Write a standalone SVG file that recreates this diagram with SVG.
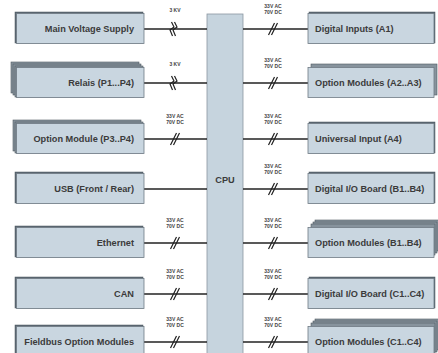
<svg xmlns="http://www.w3.org/2000/svg" width="438" height="353" viewBox="0 0 438 353">
<defs>
<style>
.bx{fill:#c9d6e0;stroke:#6f7a84;stroke-width:0.8}
.sh{fill:#5e6a74;stroke:#4a545c;stroke-width:0.5}
.st{fill:#87939d;stroke:#505a62;stroke-width:0.6}
.t{font-family:"Liberation Sans",Arial,sans-serif;font-weight:bold;font-size:9.2px;fill:#3b3b3b}
.s{font-family:"Liberation Sans",Arial,sans-serif;font-weight:bold;font-size:5px;fill:#444}
.ln{stroke:#222;stroke-width:1.5;fill:none}
.br{stroke:#222;stroke-width:1.2;fill:none}
</style>
<g id="sl"><path class="br" d="M-4.5,6 L1.5,-6 M-1.5,6 L4.5,-6"/></g>
<g id="zz"><path class="br" d="M-0.5,-7 L2,-2 L-2,1 L0.5,7 M2.5,-7 L5,-2 L1,1 L3.5,7"/></g>
</defs>
<rect width="438" height="353" fill="#fff"/>

<g id="cpu">
<rect x="207" y="14" width="36" height="345" fill="#c6d4de" stroke="#8a96a0" stroke-width="0.8"/>
<text class="t" x="225" y="183" text-anchor="middle">CPU</text>
</g>

<g id="connectors">
<line class="ln" x1="144" y1="29" x2="207" y2="29"/>
<use href="#zz" x="172" y="29"/><text class="s" x="175" y="12" text-anchor="middle">3 KV</text>
<line class="ln" x1="144" y1="83" x2="207" y2="83"/>
<use href="#zz" x="172" y="83"/><text class="s" x="175" y="66" text-anchor="middle">3 KV</text>
<line class="ln" x1="144" y1="139" x2="207" y2="139"/>
<use href="#sl" x="175" y="139"/><text class="s" x="175" y="118" text-anchor="middle">33V AC</text><text class="s" x="175" y="123.5" text-anchor="middle">70V DC</text>
<line class="ln" x1="144" y1="189" x2="207" y2="189"/>
<line class="ln" x1="144" y1="243" x2="207" y2="243"/>
<use href="#sl" x="175" y="243"/><text class="s" x="175" y="222" text-anchor="middle">33V AC</text><text class="s" x="175" y="227.5" text-anchor="middle">70V DC</text>
<line class="ln" x1="144" y1="294" x2="207" y2="294"/>
<use href="#sl" x="175" y="294"/><text class="s" x="175" y="273" text-anchor="middle">33V AC</text><text class="s" x="175" y="278.5" text-anchor="middle">70V DC</text>
<line class="ln" x1="144" y1="342" x2="207" y2="342"/>
<use href="#sl" x="175" y="342"/><text class="s" x="175" y="321" text-anchor="middle">33V AC</text><text class="s" x="175" y="326.5" text-anchor="middle">70V DC</text>

<line class="ln" x1="243" y1="29" x2="308" y2="29"/>
<use href="#sl" x="273" y="29"/><text class="s" x="273" y="8" text-anchor="middle">33V AC</text><text class="s" x="273" y="13.5" text-anchor="middle">70V DC</text>
<line class="ln" x1="243" y1="83" x2="308" y2="83"/>
<use href="#sl" x="273" y="83"/><text class="s" x="273" y="62" text-anchor="middle">33V AC</text><text class="s" x="273" y="67.5" text-anchor="middle">70V DC</text>
<line class="ln" x1="243" y1="139" x2="308" y2="139"/>
<use href="#sl" x="273" y="139"/><text class="s" x="273" y="118" text-anchor="middle">33V AC</text><text class="s" x="273" y="123.5" text-anchor="middle">70V DC</text>
<line class="ln" x1="243" y1="189" x2="308" y2="189"/>
<use href="#sl" x="273" y="189"/><text class="s" x="273" y="168" text-anchor="middle">33V AC</text><text class="s" x="273" y="173.5" text-anchor="middle">70V DC</text>
<line class="ln" x1="243" y1="243" x2="308" y2="243"/>
<use href="#sl" x="273" y="243"/><text class="s" x="273" y="222" text-anchor="middle">33V AC</text><text class="s" x="273" y="227.5" text-anchor="middle">70V DC</text>
<line class="ln" x1="243" y1="294" x2="308" y2="294"/>
<use href="#sl" x="273" y="294"/><text class="s" x="273" y="273" text-anchor="middle">33V AC</text><text class="s" x="273" y="278.5" text-anchor="middle">70V DC</text>
<line class="ln" x1="243" y1="342" x2="308" y2="342"/>
<use href="#sl" x="273" y="342"/><text class="s" x="273" y="321" text-anchor="middle">33V AC</text><text class="s" x="273" y="326.5" text-anchor="middle">70V DC</text>
</g>

<g id="main-voltage">
<rect class="sh" x="15" y="12" width="128" height="31"/>
<rect class="bx" x="16.5" y="13.5" width="127.5" height="30"/>
<text class="t" x="134" y="32.2" text-anchor="end">Main Voltage Supply</text>
</g>
<g id="relais">
<rect class="st" x="11" y="62" width="128" height="31"/>
<rect class="st" x="13" y="64" width="128" height="31"/>
<rect class="st" x="15" y="66" width="128" height="31"/>
<rect class="bx" x="16.5" y="67.5" width="127.5" height="30"/>
<text class="t" x="134" y="86.2" text-anchor="end">Relais (P1...P4)</text>
</g>
<g id="option-module-p">
<rect class="st" x="13" y="120" width="128" height="31"/>
<rect class="st" x="15" y="122" width="128" height="31"/>
<rect class="bx" x="16.5" y="123.5" width="127.5" height="30"/>
<text class="t" x="134" y="142.2" text-anchor="end">Option Module (P3..P4)</text>
</g>
<g id="usb">
<rect class="sh" x="15" y="172" width="128" height="31"/>
<rect class="bx" x="16.5" y="173.5" width="127.5" height="30"/>
<text class="t" x="134" y="192.2" text-anchor="end">USB (Front / Rear)</text>
</g>
<g id="ethernet">
<rect class="sh" x="15" y="226" width="128" height="31"/>
<rect class="bx" x="16.5" y="227.5" width="127.5" height="30"/>
<text class="t" x="134" y="246.2" text-anchor="end">Ethernet</text>
</g>
<g id="can">
<rect class="sh" x="15" y="277" width="128" height="31"/>
<rect class="bx" x="16.5" y="278.5" width="127.5" height="30"/>
<text class="t" x="134" y="297.2" text-anchor="end">CAN</text>
</g>
<g id="fieldbus">
<rect class="sh" x="15" y="325" width="128" height="31"/>
<rect class="bx" x="16.5" y="326.5" width="127.5" height="30"/>
<text class="t" x="134" y="345.2" text-anchor="end">Fieldbus Option Modules</text>
</g>

<g id="digital-inputs">
<rect class="sh" x="309" y="12" width="126" height="31"/>
<rect class="bx" x="308" y="13.5" width="126" height="30"/>
<text class="t" x="315" y="32.2">Digital Inputs (A1)</text>
</g>
<g id="option-a">
<rect class="st" x="311" y="64" width="126" height="31"/>
<rect class="bx" x="308" y="67.5" width="126" height="30"/>
<text class="t" x="315" y="86.2">Option Modules (A2..A3)</text>
</g>
<g id="universal-input">
<rect class="sh" x="309" y="122" width="126" height="31"/>
<rect class="bx" x="308" y="123.5" width="126" height="30"/>
<text class="t" x="315" y="142.2">Universal Input (A4)</text>
</g>
<g id="digital-io-b">
<rect class="sh" x="309" y="172" width="126" height="31"/>
<rect class="bx" x="308" y="173.5" width="126" height="30"/>
<text class="t" x="315" y="192.2">Digital I/O Board (B1..B4)</text>
</g>
<g id="option-b">
<rect class="st" x="315" y="220" width="124" height="31"/>
<rect class="st" x="313" y="222" width="124" height="31"/>
<rect class="st" x="311" y="224" width="124" height="31"/>
<rect class="bx" x="308" y="227.5" width="126" height="30"/>
<text class="t" x="315" y="246.2">Option Modules (B1..B4)</text>
</g>
<g id="digital-io-c">
<rect class="sh" x="309" y="277" width="126" height="31"/>
<rect class="bx" x="308" y="278.5" width="126" height="30"/>
<text class="t" x="315" y="297.2">Digital I/O Board (C1..C4)</text>
</g>
<g id="option-c">
<rect class="st" x="315" y="319" width="124" height="31"/>
<rect class="st" x="313" y="321" width="124" height="31"/>
<rect class="st" x="311" y="323" width="124" height="31"/>
<rect class="bx" x="308" y="326.5" width="126" height="30"/>
<text class="t" x="315" y="345.2">Option Modules (C1..C4)</text>
</g>
</svg>
